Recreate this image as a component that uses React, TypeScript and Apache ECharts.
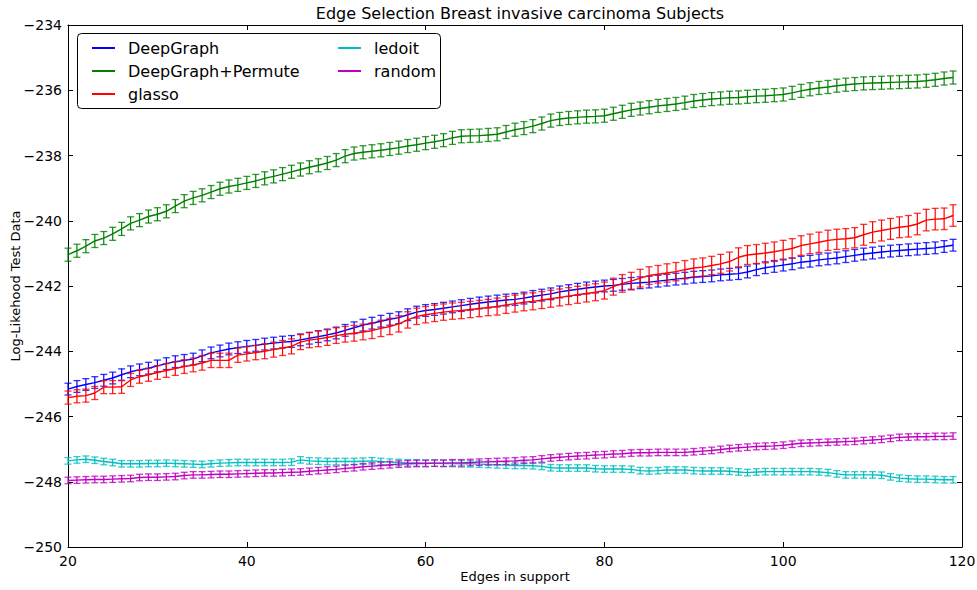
import React, { useEffect, useRef } from "react";
import * as echarts from "echarts";

const edges: number[] = Array.from({ length: 100 }, (_, i) => 20 + i);

const deepGraph = [
  -245.16, -245.08, -245.02, -244.96, -244.89, -244.82, -244.72, -244.63, -244.57, -244.52,
  -244.45, -244.38, -244.32, -244.28, -244.24, -244.14, -244.05, -243.99, -243.93, -243.89,
  -243.85, -243.82, -243.78, -243.75, -243.72, -243.70, -243.65, -243.60, -243.55, -243.50,
  -243.44, -243.36, -243.28, -243.20, -243.14, -243.08, -243.02, -242.97, -242.88, -242.80,
  -242.75, -242.72, -242.68, -242.64, -242.60, -242.56, -242.52, -242.49, -242.46, -242.43,
  -242.41, -242.37, -242.32, -242.28, -242.24, -242.18, -242.14, -242.10, -242.06, -242.03,
  -242.00, -241.98, -241.95, -241.92, -241.90, -241.88, -241.85, -241.82, -241.79, -241.76,
  -241.73, -241.71, -241.69, -241.66, -241.64, -241.62, -241.57, -241.50, -241.44, -241.40,
  -241.36, -241.32, -241.27, -241.24, -241.20, -241.17, -241.14, -241.10, -241.06, -241.02,
  -240.99, -240.96, -240.93, -240.91, -240.89, -240.87, -240.85, -240.83, -240.79, -240.75,
];

const deepGraphPermute = [
  -241.04, -240.92, -240.78, -240.62, -240.53, -240.40, -240.25, -240.08, -239.98, -239.87,
  -239.80, -239.71, -239.55, -239.40, -239.30, -239.22, -239.12, -239.02, -238.95, -238.90,
  -238.84, -238.78, -238.70, -238.64, -238.57, -238.50, -238.43, -238.36, -238.30, -238.23,
  -238.14, -238.02, -237.94, -237.90, -237.87, -237.84, -237.80, -237.76, -237.71, -237.67,
  -237.62, -237.58, -237.53, -237.46, -237.41, -237.40, -237.39, -237.37, -237.35, -237.28,
  -237.21, -237.16, -237.10, -237.02, -236.93, -236.88, -236.85, -236.83, -236.81, -236.80,
  -236.78, -236.72, -236.66, -236.60, -236.56, -236.52, -236.48, -236.45, -236.42, -236.38,
  -236.33, -236.30, -236.27, -236.25, -236.23, -236.22, -236.20, -236.18, -236.17, -236.15,
  -236.13, -236.08, -236.02, -235.97, -235.93, -235.90, -235.86, -235.83, -235.81, -235.79,
  -235.78, -235.77, -235.76, -235.75, -235.74, -235.73, -235.71, -235.68, -235.64, -235.61,
];

const glasso = [
  -245.42, -245.38, -245.36, -245.28, -245.10, -245.10, -245.09, -244.88, -244.78, -244.72,
  -244.65, -244.59, -244.53, -244.47, -244.42, -244.36, -244.28, -244.28, -244.28, -244.12,
  -244.08, -244.04, -244.00, -243.95, -243.90, -243.85, -243.72, -243.66, -243.62, -243.58,
  -243.52, -243.48, -243.45, -243.41, -243.37, -243.30, -243.24, -243.16, -243.04, -242.93,
  -242.88, -242.84, -242.80, -242.77, -242.75, -242.72, -242.69, -242.66, -242.63, -242.58,
  -242.54, -242.50, -242.47, -242.43, -242.39, -242.35, -242.31, -242.27, -242.23, -242.19,
  -242.14, -242.02, -241.92, -241.85, -241.76, -241.68, -241.64, -241.60, -241.56, -241.50,
  -241.45, -241.42, -241.37, -241.32, -241.25, -241.12, -241.05, -241.02, -240.99, -240.95,
  -240.90, -240.85, -240.76, -240.71, -240.66, -240.60, -240.57, -240.55, -240.52, -240.43,
  -240.35, -240.30, -240.25, -240.20, -240.17, -240.10, -239.98, -239.95, -239.94, -239.84,
];

const ledoit = [
  -247.36, -247.33, -247.31, -247.34, -247.38, -247.41, -247.45, -247.45, -247.45, -247.44,
  -247.44, -247.43, -247.44, -247.45, -247.46, -247.47, -247.45, -247.43, -247.42, -247.41,
  -247.41, -247.41, -247.41, -247.41, -247.41, -247.40, -247.33, -247.36, -247.37, -247.38,
  -247.38, -247.38, -247.38, -247.37, -247.36, -247.38, -247.40, -247.41, -247.42, -247.42,
  -247.43, -247.43, -247.44, -247.44, -247.45, -247.45, -247.46, -247.47, -247.48, -247.49,
  -247.50, -247.50, -247.51, -247.53, -247.57, -247.58, -247.58, -247.58, -247.58, -247.60,
  -247.61, -247.61, -247.61, -247.62, -247.66, -247.67, -247.66, -247.64, -247.64, -247.64,
  -247.66, -247.67, -247.67, -247.67, -247.68, -247.70, -247.72, -247.70, -247.69, -247.69,
  -247.69, -247.69, -247.69, -247.69, -247.70, -247.72, -247.76, -247.79, -247.79, -247.79,
  -247.79, -247.80, -247.85, -247.89, -247.91, -247.92, -247.92, -247.93, -247.94, -247.94,
];

const random = [
  -247.96, -247.95, -247.94, -247.93, -247.93, -247.92, -247.91, -247.90, -247.87, -247.86,
  -247.86, -247.85, -247.84, -247.81, -247.79, -247.79, -247.78, -247.77, -247.77, -247.76,
  -247.75, -247.74, -247.73, -247.73, -247.72, -247.71, -247.70, -247.68, -247.66, -247.64,
  -247.62, -247.59, -247.57, -247.54, -247.52, -247.50, -247.48, -247.46, -247.45, -247.44,
  -247.44, -247.43, -247.43, -247.42, -247.42, -247.41, -247.40, -247.39, -247.38, -247.37,
  -247.36, -247.34, -247.33, -247.30, -247.27, -247.25, -247.23, -247.21, -247.20, -247.18,
  -247.17, -247.15, -247.14, -247.12, -247.11, -247.11, -247.10, -247.10, -247.10, -247.10,
  -247.08, -247.06, -247.04, -247.01, -246.98, -246.96, -246.94, -246.92, -246.91, -246.90,
  -246.88, -246.85, -246.82, -246.81, -246.80, -246.79, -246.78, -246.77, -246.76, -246.74,
  -246.72, -246.70, -246.67, -246.64, -246.63, -246.62, -246.62, -246.61, -246.61, -246.60,
];

// error bar half-widths
const errDeepGraph = 0.18;
const errPermute = 0.2;
const errLedoit = 0.1;
const errRandom = 0.1;
const errGlasso = [
  0.2, 0.2, 0.2, 0.2, 0.2, 0.2, 0.2, 0.2, 0.2, 0.2,
  0.21, 0.21, 0.21, 0.21, 0.21, 0.22, 0.22, 0.22, 0.22, 0.22,
  0.22, 0.22, 0.23, 0.23, 0.23, 0.23, 0.23, 0.23, 0.24, 0.24,
  0.24, 0.24, 0.24, 0.24, 0.24, 0.25, 0.25, 0.25, 0.25, 0.25,
  0.25, 0.25, 0.25, 0.25, 0.25, 0.25, 0.25, 0.25, 0.26, 0.26,
  0.26, 0.26, 0.26, 0.26, 0.26, 0.26, 0.26, 0.26, 0.26, 0.26,
  0.26, 0.26, 0.27, 0.27, 0.27, 0.27, 0.27, 0.28, 0.28, 0.28,
  0.28, 0.28, 0.28, 0.29, 0.29, 0.29, 0.29, 0.29, 0.3, 0.3,
  0.3, 0.3, 0.3, 0.3, 0.31, 0.31, 0.31, 0.31, 0.31, 0.32,
  0.32, 0.32, 0.32, 0.32, 0.33, 0.33, 0.33, 0.33, 0.33, 0.33,
];

const seriesNames = ["DeepGraph", "DeepGraph+Permute", "glasso", "ledoit", "random"];
const seriesColors = ["#0000ff", "#008000", "#ff0000", "#00bfbf", "#bf00bf"];
const xTicks = [20, 40, 60, 80, 100, 120];
const yTicks = [-250, -248, -246, -244, -242, -240, -238, -236, -234];

const FONT = "DejaVu Sans";

export default function App() {
  const ref = useRef<HTMLDivElement>(null);
  useEffect(() => {
    if (!ref.current) return;
    const chart = echarts.init(ref.current, undefined, { renderer: "svg" });
    const values = [deepGraph, deepGraphPermute, glasso, ledoit, random];
    const errs = [errDeepGraph, errPermute, errGlasso, errLedoit, errRandom];

    const series: any[] = [];
    values.forEach((vals, s) => {
      const color = seriesColors[s];
      const e = errs[s];
      const errData = edges.map((x, i) => {
        const h = Array.isArray(e) ? e[i] : e;
        return [x, vals[i] - h, vals[i] + h];
      });
      series.push({
        type: "custom",
        name: seriesNames[s] + " err",
        xAxisIndex: 0,
        yAxisIndex: 0,
        encode: { x: 0, y: [1, 2] },
        data: errData,
        z: 2 + s * 2,
        renderItem: (params: any, api: any) => {
          const x = api.value(0);
          const lo = api.coord([x, api.value(1)]);
          const hi = api.coord([x, api.value(2)]);
          const cw = 3.5;
          return {
            type: "group",
            children: [
              { type: "line", shape: { x1: lo[0], y1: lo[1], x2: hi[0], y2: hi[1] }, style: { stroke: color, lineWidth: 1.2 } },
              { type: "line", shape: { x1: lo[0] - cw, y1: lo[1], x2: lo[0] + cw, y2: lo[1] }, style: { stroke: color, lineWidth: 1.3, opacity: 0.8 } },
              { type: "line", shape: { x1: hi[0] - cw, y1: hi[1], x2: hi[0] + cw, y2: hi[1] }, style: { stroke: color, lineWidth: 1.3, opacity: 0.8 } },
            ],
          };
        },
      });
      series.push({
        type: "line",
        name: seriesNames[s],
        xAxisIndex: 0,
        yAxisIndex: 0,
        data: edges.map((x, i) => [x, vals[i]]),
        showSymbol: false,
        symbol: "none",
        lineStyle: { color, width: 1.4 },
        itemStyle: { color },
        z: 3 + s * 2,
      });
    });

    const axisCommon = {
      axisLine: { show: true, onZero: false, lineStyle: { color: "#000", width: 1 } },
      axisTick: { show: true, inside: true, length: 5, lineStyle: { color: "#000", width: 1 } },
      splitLine: { show: false },
    };

    const option: any = {
      animation: false,
      backgroundColor: "#fff",
      textStyle: { fontFamily: FONT },
      title: {
        text: "Edge Selection Breast invasive carcinoma Subjects",
        left: 515,
        textAlign: "center",
        top: 0,
        textStyle: { fontFamily: FONT, fontSize: 16, fontWeight: "normal", color: "#000" },
      },
      grid: { left: 68, top: 25, width: 894, height: 522, outerBoundsMode: "none", containLabel: false },
      xAxis: [
        {
          type: "value",
          min: xTicks[0],
          max: xTicks[xTicks.length - 1],
          interval: 20,
          position: "bottom",
          ...axisCommon,
          axisLabel: { color: "#000", fontSize: 14, fontFamily: FONT, margin: 7 },
          name: "Edges in support",
          nameLocation: "middle",
          nameGap: 23,
          nameMoveOverlap: false,
          nameTextStyle: { color: "#000", fontSize: 13, fontFamily: FONT },
        },
        {
          type: "value",
          min: xTicks[0],
          max: xTicks[xTicks.length - 1],
          interval: 20,
          position: "top",
          ...axisCommon,
          axisLabel: { show: false },
        },
      ],
      yAxis: [
        {
          type: "value",
          min: yTicks[0],
          max: yTicks[yTicks.length - 1],
          interval: 2,
          position: "left",
          ...axisCommon,
          axisLabel: {
            color: "#000",
            fontSize: 14,
            fontFamily: FONT,
            margin: 6,
            formatter: (v: number) => String(v).replace("-", "\u2212"),
          },
          name: "Log-Likehood Test Data",
          nameLocation: "middle",
          nameGap: 46,
          nameMoveOverlap: false,
          nameTextStyle: { color: "#000", fontSize: 13, fontFamily: FONT },
        },
        {
          type: "value",
          min: yTicks[0],
          max: yTicks[yTicks.length - 1],
          interval: 2,
          position: "right",
          ...axisCommon,
          axisLabel: { show: false },
        },
      ],
      legend: [
        {
          data: seriesNames.slice(0, 3),
          orient: "vertical",
          left: 87,
          top: 35,
          itemGap: 7,
          itemWidth: 23,
          itemHeight: 2,
          icon: "rect",
          textStyle: { fontFamily: FONT, fontSize: 16, color: "#000", padding: [0, 0, 0, 8] },
          z: 10,
        },
        {
          data: seriesNames.slice(3),
          orient: "vertical",
          left: 333,
          top: 35,
          itemGap: 7,
          itemWidth: 23,
          itemHeight: 2,
          icon: "rect",
          textStyle: { fontFamily: FONT, fontSize: 16, color: "#000", padding: [0, 0, 0, 8] },
          z: 10,
        },
      ],
      graphic: [
        {
          type: "rect",
          left: 77,
          top: 33,
          z: 9,
          shape: { width: 363, height: 75, r: 4 },
          style: { fill: "#fff", stroke: "#000", lineWidth: 1 },
        },
      ],
      series,
    };
    chart.setOption(option);
    return () => chart.dispose();
  }, []);
  return (
    <div
      ref={ref}
      style={{ position: "fixed", left: 0, top: 0, width: 977, height: 590, background: "#fff" }}
    />
  );
}
